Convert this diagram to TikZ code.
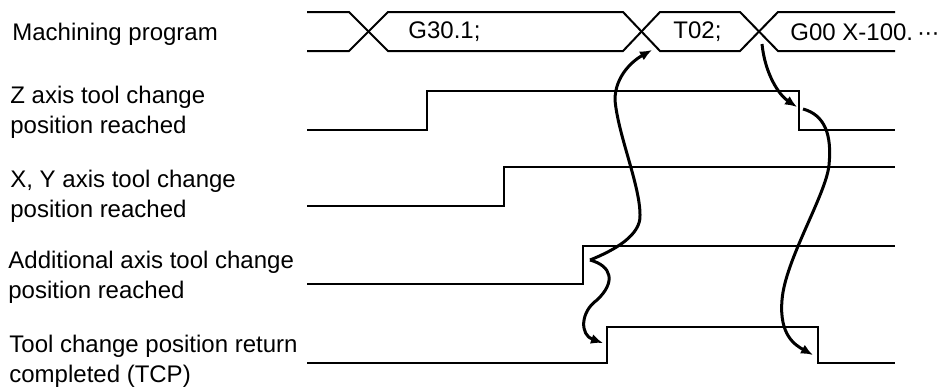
\documentclass[tikz,border=0pt]{standalone}
\usepackage{fontspec}
\setmainfont{Liberation Sans}
\usetikzlibrary{arrows.meta}

\begin{document}
\begin{tikzpicture}[x=0.5pt, y=-0.5pt, font=\fontsize{12}{15}\selectfont,
  sig/.style={line width=1pt, line join=miter},
  lbl/.style={anchor=west, align=left, inner sep=0pt},
  bustxt/.style={anchor=west, inner sep=0pt},
  evt/.style={line width=1.5pt, -{Latex[length=6pt, width=5pt]}}]
  \useasboundingbox (0,0) rectangle (940,388);
  % signal names (left column)
  \node[lbl] (nprog) at (12,34)    {Machining program};
  \node[lbl] (nz)    at (10,112)   {Z axis tool change\\position reached};
  \node[lbl] (nxy)   at (10,196)   {X, Y axis tool change\\position reached};
  \node[lbl] (nadd)  at (8,277.5)  {Additional axis tool change\\position reached};
  \node[lbl] (ntcp)  at (9,361.5)  {Tool change position return\\completed (TCP)};
  % machining program: three blocks split by crossings
  \draw[sig] (307,12) -- (349,12) -- (388,51) -- (623,51) -- (660,12)
    -- (740,12) -- (778,51) -- (895,51);
  \draw[sig] (307,51) -- (349,51) -- (388,12) -- (623,12) -- (660,51)
    -- (740,51) -- (778,12) -- (895,12);
  \node[bustxt] (bg30) at (408,32) {G30.1;};
  \node[bustxt] (bt02) at (673,32) {T02;};
  \node[bustxt] (bg00) at (790,32) {G00 X-100.\,·\kern-0.4pt·\kern-0.4pt·};
  % Z axis
  \draw[sig] (307,130) -- (427,130) -- (427,91) -- (799,91) -- (799,130) -- (895,130);
  % X, Y axis
  \draw[sig] (307,206) -- (504,206) -- (504,167) -- (895,167);
  % additional axis
  \draw[sig] (307,284) -- (583,284) -- (583,246) -- (895,246);
  % TCP
  \draw[sig] (307,363) -- (607,363) -- (607,327) -- (818,327) -- (818,363) -- (895,363);
  % arrow end points
  \coordinate (addon)  at (590,260);
  \coordinate (xt02)   at (652,50);
  \coordinate (tcpon)  at (603,343);
  \coordinate (xg00)   at (762,44);
  \coordinate (zoffa)  at (797,107);
  \coordinate (zoffb)  at (803,109);
  \coordinate (tcpoff) at (813,355);
  % causality arrows
  \draw[evt] (addon) .. controls +(25,-10) and +(1,20) .. (640,215)
    .. controls +(0,-30) and +(3,35) .. (615,100)
    .. controls +(0,-25) and +(-18,10) .. (xt02);
  \draw[evt] (addon) .. controls +(22,6) and +(19,-18) .. (597,300)
    .. controls +(-17,12) and +(-23,-8) .. (tcpon);
  \draw[evt] (xg00) .. controls +(3,30) and +(-18,-12) .. (zoffa);
  \draw[evt] (zoffb) .. controls +(22,6) and +(3,-30) .. (829,165)
    .. controls +(-3,30) and +(3,-40) .. (782,300)
    .. controls +(-3,35) and +(-18,-10) .. (tcpoff);
\end{tikzpicture}
\end{document}
